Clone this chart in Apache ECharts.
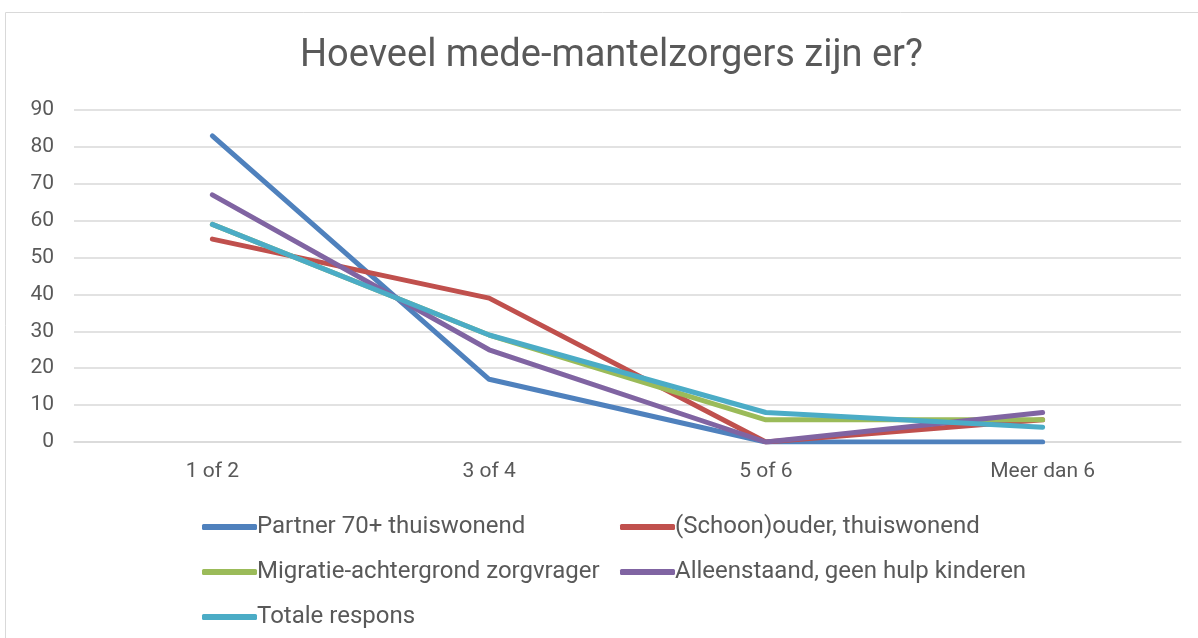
<!DOCTYPE html>
<html>
<head>
<meta charset="utf-8">
<script src="https://cdn.jsdelivr.net/npm/echarts@6/dist/echarts.min.js"></script>
<style>
  html, body { margin: 0; padding: 0; background: #fff; }
  #container { width: 1198px; height: 638px; }
</style>
</head>
<body>
<div id="container"></div>
<script>
    // data
    var categories = ['1 of 2', '3 of 4', '5 of 6', 'Meer dan 6'];
    var seriesNames = ['Partner 70+ thuiswonend', '(Schoon)ouder, thuiswonend', 'Migratie-achtergrond zorgvrager', 'Alleenstaand, geen hulp kinderen', 'Totale respons'];
    var partner = [83, 17, 0, 0];
    var schoonouder = [55, 39, 0, 6];
    var migratie = [59, 29, 6, 6];
    var alleenstaand = [67, 25, 0, 8];
    var totaal = [59, 29, 8, 4];
    var colors = ['#4f81bd', '#c0504d', '#9bbb59', '#8064a2', '#4bacc6'];

    var values = [partner, schoonouder, migratie, alleenstaand, totaal];
    var series = [];
    for (var i = 0; i < seriesNames.length; i++) {
        series.push({
            name: seriesNames[i],
            type: 'line',
            data: values[i],
            symbol: 'none',
            lineStyle: { width: 5, color: colors[i], cap: 'round', join: 'round' },
            itemStyle: { color: colors[i] }
        });
    }

    var legendCommon = {
        orient: 'vertical',
        top: 510,
        itemWidth: 55,
        itemHeight: 6,
        itemGap: 21,
        textStyle: { color: '#595959', fontSize: 24, lineHeight: 24, fontFamily: 'Roboto', padding: [0, 0, 0, -5] },
        icon: 'roundRect'
    };

    var myChart = echarts.init(document.getElementById('container'));
    var option = {
        color: colors,
        textStyle: { fontFamily: 'Roboto' },
        title: {
            text: 'Hoeveel mede-mantelzorgers zijn er?',
            left: 295,
            top: 32,
            textStyle: { color: '#595959', fontSize: 38, fontWeight: 'normal', fontFamily: 'Roboto' }
        },
        graphic: [{
            type: 'rect',
            shape: { x: 5.5, y: 12.5, width: 1300, height: 700 },
            style: { fill: 'none', stroke: '#d9d9d9', lineWidth: 1 },
            silent: true,
            z: -1
        }],
        legend: [
            Object.assign({ left: 197, data: [seriesNames[0], seriesNames[2], seriesNames[4]] }, legendCommon),
            Object.assign({ left: 615, data: [seriesNames[1], seriesNames[3]] }, legendCommon)
        ],
        grid: { left: 74, right: 17, top: 110, bottom: 196, containLabel: false },
        xAxis: {
            type: 'category',
            data: categories,
            boundaryGap: true,
            axisLine: { lineStyle: { color: '#d9d9d9', width: 1.5 } },
            axisTick: { show: false },
            axisLabel: { color: '#595959', fontSize: 21, margin: 19 }
        },
        yAxis: {
            type: 'value',
            min: 0,
            max: 90,
            interval: 10,
            axisLine: { show: false },
            axisTick: { show: false },
            axisLabel: { color: '#595959', fontSize: 21, margin: 20 },
            splitLine: { lineStyle: { color: '#d9d9d9', width: 1.5 } }
        },
        series: series
    };
    myChart.setOption(option);
</script>
</body>
</html>
